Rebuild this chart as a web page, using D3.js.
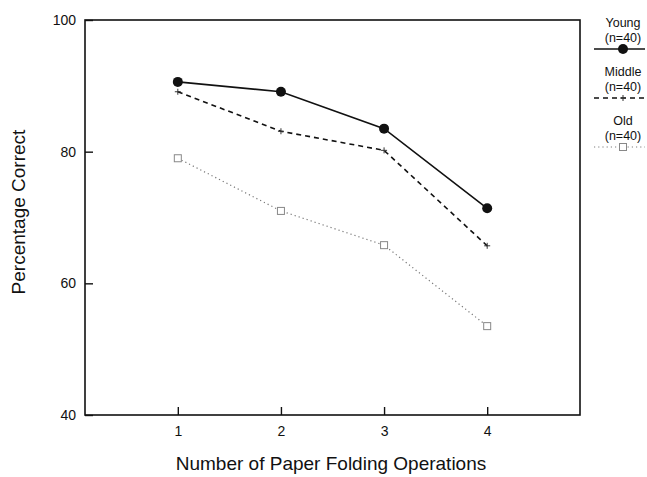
<!DOCTYPE html>
<html>
<head>
<meta charset="utf-8">
<script src="https://cdn.jsdelivr.net/npm/d3@7"></script>
<style>
  body { margin: 0; background: #fff; }
  svg text { font-family: "Liberation Sans", Arial, sans-serif; fill: #111; }
</style>
</head>
<body>
<svg id="chart" width="647" height="477"></svg>
<script>
// data
const operations = [1, 2, 3, 4];
const youngValues = [90.6, 89.1, 83.5, 71.4];
const middleValues = [89.1, 83.1, 80.2, 65.7];
const oldValues = [79.0, 71.0, 65.8, 53.5];
const yTicks = [40, 60, 80, 100];
const groupNames = ["Young", "Middle", "Old"];
const groupSizes = ["(n=40)", "(n=40)", "(n=40)"];

const svg = d3.select("#chart");
const frame = { left: 85, top: 20, right: 580, bottom: 415 };

const x = d3.scaleLinear().domain([0.1, 4.9]).range([frame.left, frame.right]);
const y = d3.scaleLinear().domain([40, 100]).range([frame.bottom, frame.top]);

// frame box
svg.append("rect")
    .attr("x", frame.left).attr("y", frame.top)
    .attr("width", frame.right - frame.left)
    .attr("height", frame.bottom - frame.top)
    .attr("fill", "none")
    .attr("stroke", "#111")
    .attr("stroke-width", 1.6);

// axes with inward ticks
const xAxis = d3.axisBottom(x).tickValues(operations).tickSize(-8).tickPadding(11).tickFormat(d3.format("d"));
const yAxis = d3.axisLeft(y).tickValues(yTicks).tickSize(-8).tickPadding(9);

const gx = svg.append("g").attr("transform", `translate(0,${frame.bottom})`).call(xAxis);
const gy = svg.append("g").attr("transform", `translate(${frame.left},0)`).call(yAxis);
[gx, gy].forEach(g => {
    g.select(".domain").remove();
    g.selectAll(".tick line").attr("stroke", "#111").attr("stroke-width", 1.4);
    g.selectAll(".tick text").style("font-size", "14px");
});

// axis titles
svg.append("text")
    .attr("x", 331)
    .attr("y", 470)
    .attr("text-anchor", "middle")
    .style("font-size", "19px")
    .text("Number of Paper Folding Operations");

svg.append("text")
    .attr("transform", `translate(25,212) rotate(-90)`)
    .attr("text-anchor", "middle")
    .style("font-size", "19px")
    .text("Percentage Correct");

const series = [
    { values: youngValues, dash: null, width: 1.6, color: "#111", marker: "circle" },
    { values: middleValues, dash: "5,4", width: 1.6, color: "#111", marker: "plus" },
    { values: oldValues, dash: "1.2,3", width: 1.2, color: "#777", marker: "square" }
];

const line = d3.line().x((d, i) => x(operations[i])).y(d => y(d));

function drawMarker(g, kind, cx, cy) {
    if (kind === "circle") {
        g.append("circle").attr("cx", cx).attr("cy", cy).attr("r", 5).attr("fill", "#111");
    } else if (kind === "plus") {
        g.append("path")
            .attr("d", `M${cx - 3},${cy}H${cx + 3}M${cx},${cy - 3}V${cy + 3}`)
            .attr("stroke", "#333").attr("stroke-width", 1);
    } else {
        g.append("rect")
            .attr("x", cx - 3.5).attr("y", cy - 3.5).attr("width", 7).attr("height", 7)
            .attr("fill", "#fff").attr("stroke", "#888").attr("stroke-width", 1);
    }
}

series.forEach(s => {
    svg.append("path")
        .datum(s.values)
        .attr("d", line)
        .attr("fill", "none")
        .attr("stroke", s.color)
        .attr("stroke-width", s.width)
        .attr("stroke-dasharray", s.dash);
    const g = svg.append("g");
    s.values.forEach((v, i) => drawMarker(g, s.marker, x(operations[i]), y(v)));
});

// legend on the right, outside the frame
const legendX = 623;
series.forEach((s, i) => {
    const top = 27 + i * 49;
    svg.append("text").attr("x", legendX).attr("y", top)
        .attr("text-anchor", "middle").style("font-size", "12.5px").text(groupNames[i]);
    svg.append("text").attr("x", legendX).attr("y", top + 15)
        .attr("text-anchor", "middle").style("font-size", "12.5px").text(groupSizes[i]);
    const ly = top + 22;
    svg.append("line")
        .attr("x1", 594).attr("x2", 645).attr("y1", ly).attr("y2", ly)
        .attr("stroke", s.color).attr("stroke-width", s.width * 0.8)
        .attr("stroke-dasharray", s.dash);
    drawMarker(svg.append("g"), s.marker, legendX, ly);
});
</script>
</body>
</html>
